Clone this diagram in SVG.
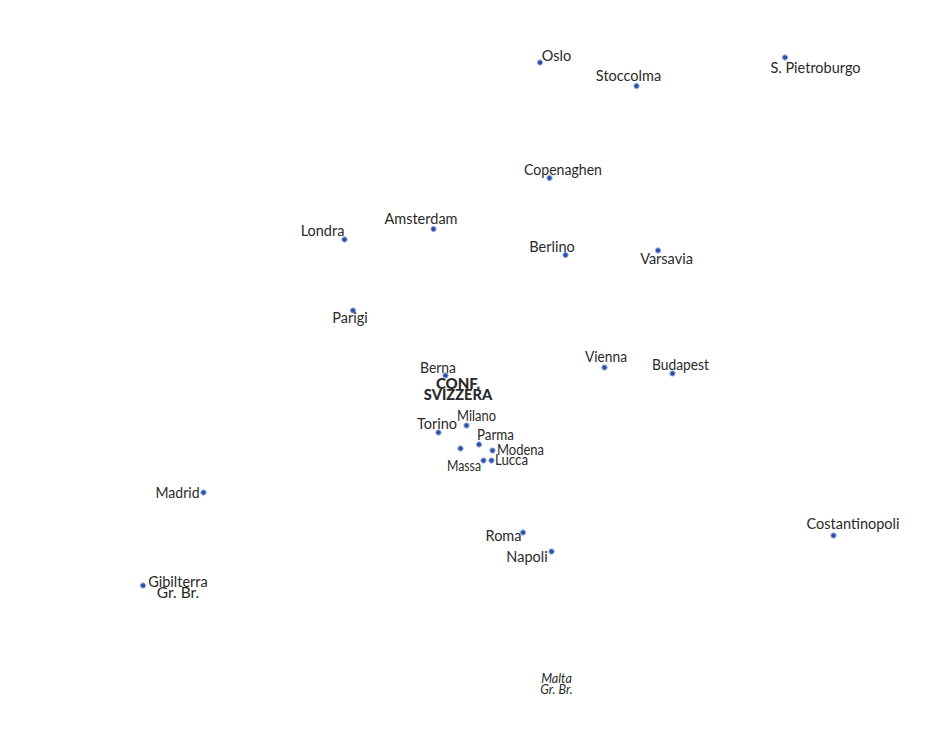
<svg xmlns="http://www.w3.org/2000/svg" width="948" height="729" viewBox="0 0 948 729">
<style>
text{font-family:"Lato","Open Sans","Liberation Sans",sans-serif;font-size:14.5px;fill:#2a2a2a;text-anchor:middle}
.b{font-weight:900;font-size:15px}
.g{font-size:15.5px}
.i{font-style:italic;font-size:12.6px}
circle{fill:#2a50ae;stroke:#a9b8de;stroke-width:1}
</style>
<rect width="948" height="729" fill="#fff"/>
<g id="connectors"/>
<g id="oslo"><circle cx="540" cy="62.500" r="2.700"/><text x="556.500" y="60.500">Oslo</text></g>
<g id="stoccolma"><circle cx="636.500" cy="86" r="2.700"/><text x="628.500" y="80.500">Stoccolma</text></g>
<g id="pietroburgo"><circle cx="785" cy="57.500" r="2.700"/><text x="815.500" y="72.500">S. Pietroburgo</text></g>
<g id="copenaghen"><circle cx="549.500" cy="178" r="2.700"/><text x="563" y="174.500" textLength="78" lengthAdjust="spacingAndGlyphs">Copenaghen</text></g>
<g id="amsterdam"><circle cx="433.500" cy="229" r="2.700"/><text x="421" y="223.500">Amsterdam</text></g>
<g id="londra"><circle cx="344.500" cy="239.500" r="2.700"/><text x="322.500" y="235.500">Londra</text></g>
<g id="berlino"><circle cx="565.500" cy="255" r="2.700"/><text x="552" y="252">Berlino</text></g>
<g id="varsavia"><circle cx="658" cy="250.500" r="2.700"/><text x="666.500" y="263.500">Varsavia</text></g>
<g id="parigi"><circle cx="353" cy="310.500" r="2.700"/><text x="350" y="323">Parigi</text></g>
<g id="vienna"><circle cx="604.500" cy="367.500" r="2.700"/><text x="606" y="362" textLength="42" lengthAdjust="spacingAndGlyphs">Vienna</text></g>
<g id="budapest"><circle cx="672.500" cy="373.500" r="2.700"/><text x="680.500" y="369.500" textLength="57" lengthAdjust="spacingAndGlyphs">Budapest</text></g>
<g id="berna"><circle cx="445.500" cy="375.500" r="2.700"/><text x="438" y="373" textLength="36" lengthAdjust="spacingAndGlyphs">Berna</text></g>
<g id="svizzera"><text class="b" x="458" y="389">CONF.</text><text class="b" x="458" y="399.500" style="font-size:14.600px">SVIZZERA</text></g>
<g id="milano"><circle cx="466.500" cy="425.500" r="2.700"/><text x="476.500" y="420.500" textLength="39" lengthAdjust="spacingAndGlyphs">Milano</text></g>
<g id="torino"><circle cx="438.500" cy="432.500" r="2.700"/><text x="437" y="428.500">Torino</text></g>
<g id="parma"><circle cx="479" cy="444.500" r="2.700"/><text x="495.500" y="440" textLength="37" lengthAdjust="spacingAndGlyphs">Parma</text></g>
<g id="anon"><circle cx="460.500" cy="448.500" r="2.700"/></g>
<g id="modena"><circle cx="492.500" cy="450.500" r="2.700"/><text x="520.500" y="454.500" textLength="47" lengthAdjust="spacingAndGlyphs">Modena</text></g>
<g id="lucca"><circle cx="491.500" cy="460.500" r="2.700"/><text x="511.500" y="464.500" textLength="33" lengthAdjust="spacingAndGlyphs">Lucca</text></g>
<g id="massa"><circle cx="483.500" cy="460.500" r="2.700"/><text x="464" y="470.500" textLength="34" lengthAdjust="spacingAndGlyphs">Massa</text></g>
<g id="madrid"><circle cx="203.500" cy="492.500" r="2.700"/><text x="177.500" y="497.500" textLength="44" lengthAdjust="spacingAndGlyphs">Madrid</text></g>
<g id="roma"><circle cx="523" cy="532.500" r="2.700"/><text x="503.500" y="541">Roma</text></g>
<g id="napoli"><circle cx="551.500" cy="551.500" r="2.700"/><text x="527" y="561.500">Napoli</text></g>
<g id="costantinopoli"><circle cx="833.500" cy="535.500" r="2.700"/><text x="853" y="528.500">Costantinopoli</text></g>
<g id="gibilterra"><circle cx="143" cy="585.500" r="2.700"/><text x="178" y="586.500">Gibilterra</text><text class="g" x="178" y="597.500">Gr. Br.</text></g>
<g id="malta"><text class="i" x="556.500" y="683">Malta</text><text class="i" x="556.500" y="694">Gr. Br.</text></g>
</svg>
